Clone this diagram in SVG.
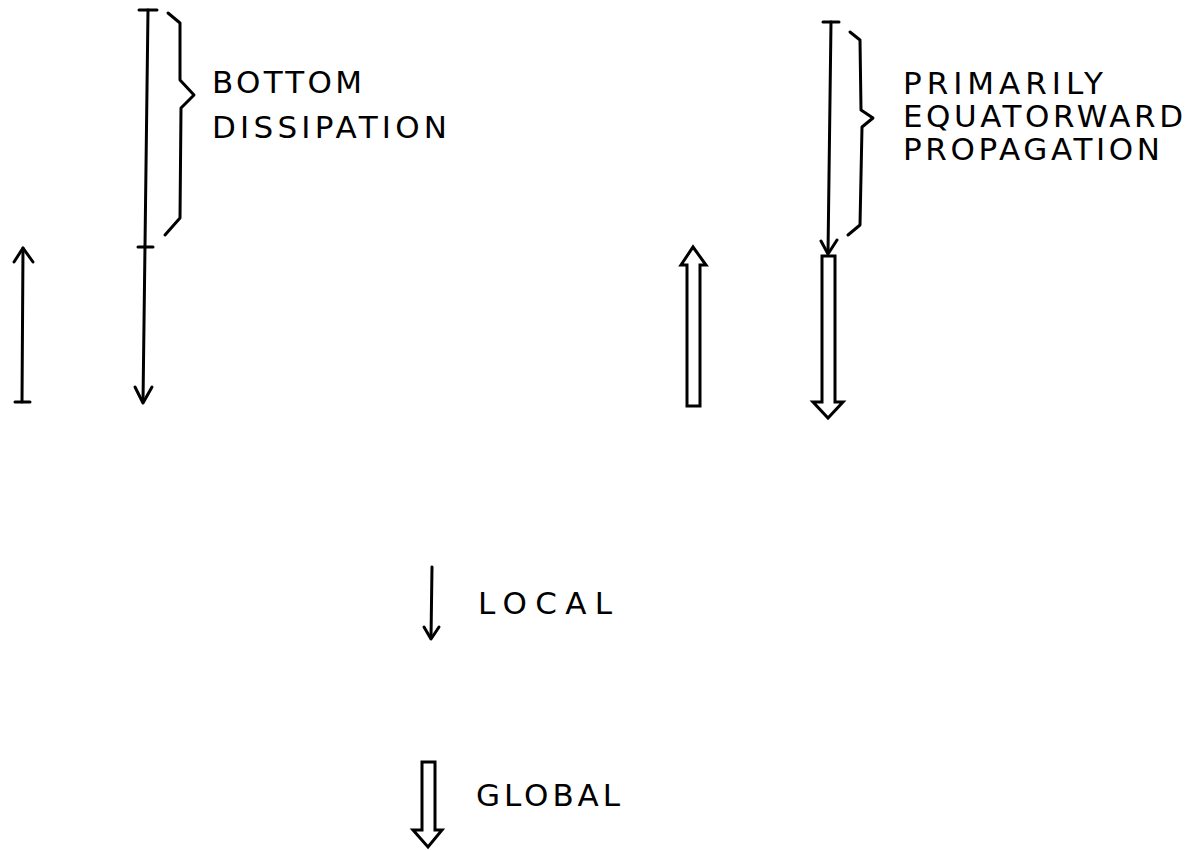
<svg xmlns="http://www.w3.org/2000/svg" width="1195" height="850" viewBox="0 0 1195 850">
<style>
.ln{fill:none;stroke:#000;stroke-width:3;stroke-linecap:round;stroke-linejoin:round}
.hl{fill:#fff;stroke:#000;stroke-width:3;stroke-linejoin:miter}
.tx{font-family:"DejaVu Sans","Liberation Sans",sans-serif;font-size:31px;fill:#000}
</style>
<rect width="1195" height="850" fill="#fff"/>
<g id="connectors">
<g id="left-up-arrow">
<line class="ln" x1="22" y1="402" x2="23" y2="248"/>
<line class="ln" x1="15" y1="402" x2="30" y2="402"/>
<polyline class="ln" points="14,262 23,248 33,262"/>
</g>
<g id="left-main-line">
<line class="ln" x1="148" y1="10" x2="143" y2="402"/>
<line class="ln" x1="139" y1="10" x2="157" y2="10"/>
<line class="ln" x1="138" y1="247" x2="153" y2="247"/>
<polyline class="ln" points="135,387 143,403 152,387"/>
</g>
<g id="right-thin-line">
<line class="ln" x1="831" y1="22" x2="828" y2="253"/>
<line class="ln" x1="823" y1="22" x2="839" y2="22"/>
<polyline class="ln" points="821,241 828,254 837,240"/>
</g>
<g id="right-hollow-down">
<polygon class="hl" points="822,256 835,256 835,402 843,402 828,418 813,402 822,402"/>
</g>
<g id="right-hollow-up">
<polygon class="hl" points="687,406 700,406 700,265 706,265 693,247 681,265 687,265"/>
</g>
<g id="local-arrow">
<line class="ln" x1="432" y1="567" x2="431" y2="638"/>
<polyline class="ln" points="424,627 431,639 439,627"/>
</g>
<g id="global-arrow">
<polygon class="hl" points="422,762 435,762 435,830 442,830 428,847 413,830 422,830"/>
</g>
</g>
<g id="bottom-dissipation">
<path class="ln" d="M168,13 L180,23 L180,80 L194,95 L181,108 L180,218 L165,235"/>
<text class="tx" x="212" y="93" textLength="150" lengthAdjust="spacing">BOTTOM</text>
<text class="tx" x="212" y="138" textLength="235" lengthAdjust="spacing">DISSIPATION</text>
</g>
<g id="equatorward-propagation">
<path class="ln" d="M850,32 L860,40 L861,110 L873,118 L862,127 L860,225 L848,235"/>
<text class="tx" x="903" y="94" textLength="200" lengthAdjust="spacing">PRIMARILY</text>
<text class="tx" x="903" y="127" textLength="280" lengthAdjust="spacing">EQUATORWARD</text>
<text class="tx" x="903" y="160" textLength="257" lengthAdjust="spacing">PROPAGATION</text>
</g>
<g id="local-label">
<text class="tx" x="478" y="614" textLength="134" lengthAdjust="spacing">LOCAL</text>
</g>
<g id="global-label">
<text class="tx" x="476" y="806" textLength="144" lengthAdjust="spacing">GLOBAL</text>
</g>
</svg>
